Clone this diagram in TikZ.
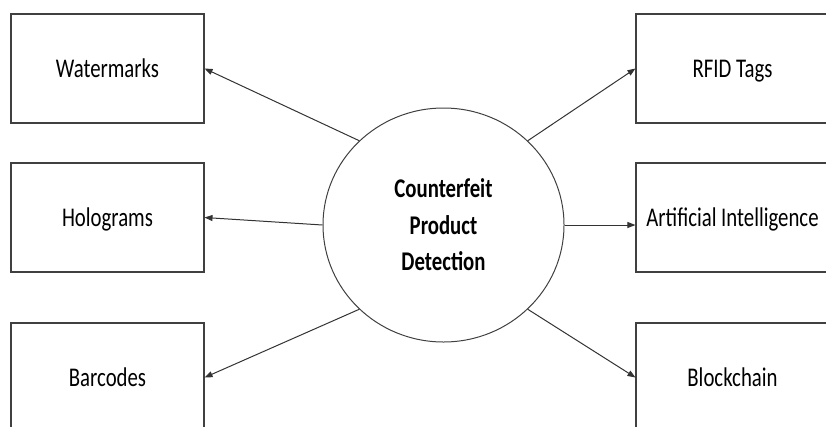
\documentclass[tikz,border=0pt]{standalone}
\usepackage{fontspec}
\setmainfont[FakeStretch=0.77]{Carlito}
\usetikzlibrary{shapes.geometric,arrows.meta}
\begin{document}
\begin{tikzpicture}[x=1pt,y=-1pt,
  box/.style={draw=black!75,line width=1.1pt,minimum width=193pt,minimum height=109pt,inner sep=0pt,
    font=\fontsize{27}{36.5}\selectfont,text height=18pt,text depth=0pt},
  hub/.style={ellipse,draw=black!75,line width=1pt,minimum width=241pt,minimum height=234pt,inner sep=0pt,
    align=center,font=\fontsize{27}{36.5}\selectfont\bfseries},
  conn/.style={draw=black!80,line width=1pt,-{Triangle[length=8pt,width=6pt]}}]
\useasboundingbox (0,0) rectangle (826,426);
\clip (0,0) rectangle (826,426);
\node[box] (w) at (107.5,68.5) {Watermarks};
\node[box] (h) at (107.5,217.5) {Holograms};
\node[box] (b) at (107.5,377.5) {Barcodes};
\node[box] (r) at (732.5,68.5) {RFID Tags};
\node[box] (a) at (732.5,217.5) {Artificial Intelligence};
\node[box] (k) at (732.5,377.5) {Blockchain};
\node[hub] (c) at (443.5,225) {Counterfeit\\Product\\Detection};
\draw[conn] (c.135) -- (w.east);
\draw[conn] (c.west) -- (h.east);
\draw[conn] (c.225) -- (b.east);
\draw[conn] (c.45) -- (r.west);
\draw[conn] (c.east) -- (c.east -| a.west);
\draw[conn] (c.-45) -- (k.west);
\end{tikzpicture}
\end{document}
